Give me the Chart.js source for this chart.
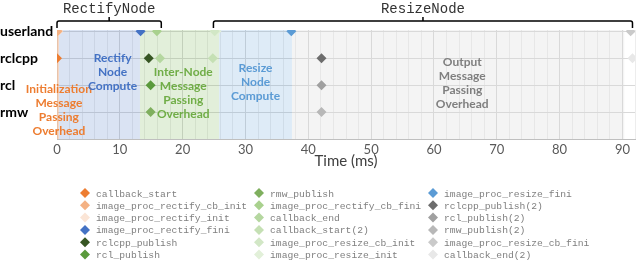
<!DOCTYPE html>
<html>
<head>
<meta charset="utf-8">
<script src="https://cdn.jsdelivr.net/npm/chart.js@4"></script>
<style>
  body { margin: 0; background: #fff; }
  #wrap { width: 640px; height: 261px; position: relative; }
</style>
</head>
<body>
<div id="wrap"><canvas id="traceChart"></canvas></div>
<script>
// rows of the trace (top to bottom)
const rowNames = ['userland', 'rclcpp', 'rcl', 'rmw'];
const rowLevels = [4, 3, 2, 1];

// trace events
const eventNames = [
  'callback_start', 'image_proc_rectify_cb_init', 'image_proc_rectify_init',
  'image_proc_rectify_fini', 'rclcpp_publish', 'rcl_publish',
  'rmw_publish', 'image_proc_rectify_cb_fini', 'callback_end',
  'callback_start(2)', 'image_proc_resize_cb_init', 'image_proc_resize_init',
  'image_proc_resize_fini', 'rclcpp_publish(2)', 'rcl_publish(2)',
  'rmw_publish(2)', 'image_proc_resize_cb_fini', 'callback_end(2)'
];
const eventRows = [
  'rclcpp', 'userland', 'userland',
  'userland', 'rclcpp', 'rcl',
  'rmw', 'userland', 'rclcpp',
  'rclcpp', 'userland', 'userland',
  'userland', 'rclcpp', 'rcl',
  'rmw', 'userland', 'rclcpp'
];
const eventTimes = [
  0, 0.1, 0.2,
  13.3, 14.6, 14.9,
  14.9, 15.9, 16.4,
  24.8, 25.1, 25.4,
  37.3, 42.1, 42.1,
  42.1, 91.3, 91.6
];

// phases (ms)
const phaseStarts = [0, 0.3, 13.2, 25.8, 37.4];
const phaseEnds = [0.3, 13.2, 25.8, 37.4, 90.3];
const phaseLabels = [
  ['Initialization', 'Message', 'Passing', 'Overhead'],
  ['Rectify', 'Node', 'Compute'],
  ['Inter-Node', 'Message', 'Passing', 'Overhead'],
  ['Resize', 'Node', 'Compute'],
  ['Output', 'Message', 'Passing', 'Overhead']
];

// node brackets (ms)
const nodeNames = ['RectifyNode', 'ResizeNode'];
const nodeStarts = [0, 24.9];
const nodeEnds = [16.6, 91.6];

const xTickLabels = ['0', '10', '20', '30', '40', '50', '60', '70', '80', '90'];

// styles
const eventColors = [
  '#ED7D31', '#F4B183', '#FBE5D6',
  '#4472C4', '#375623', '#5A9A3C',
  '#7FAF5E', '#A9D18E', '#B5D7A0',
  '#C5E0B4', '#D2E7C6', '#E2F0D9',
  '#5B9BD5', '#6D6D6D', '#A0A0A0',
  '#B8B8B8', '#CACACA', '#E8E8E8'
];
const phaseFill = [
  'rgba(244,177,131,0.55)', 'rgba(68,114,196,0.2)', 'rgba(112,173,71,0.2)',
  'rgba(91,155,213,0.2)', 'rgba(217,217,217,0.3)'
];
const phaseText = ['#ED7D31', '#4472C4', '#70AD47', '#5B9BD5', '#7F7F7F'];
const phaseTextCx = [0.3, 8.85, 20.1, 31.6, 64.5];
const phaseTextTop = [59, 28, 42, 38, 32];

const datasets = eventNames.map((name, i) => ({
  label: name,
  data: [{ x: eventTimes[i], y: rowLevels[rowNames.indexOf(eventRows[i])] }],
  backgroundColor: eventColors[i],
  borderColor: eventColors[i],
  pointStyle: 'rectRot',
  pointRadius: 5,
  pointHoverRadius: 5,
  borderWidth: 0
}));

const phasePlugin = {
  id: 'phases',
  beforeDatasetsDraw(chart) {
    const { ctx, chartArea, scales } = chart;
    ctx.save();
    phaseStarts.forEach((s, i) => {
      const x0 = scales.x.getPixelForValue(s);
      const x1 = scales.x.getPixelForValue(phaseEnds[i]);
      ctx.fillStyle = phaseFill[i];
      ctx.fillRect(x0, chartArea.top, x1 - x0, chartArea.bottom - chartArea.top);
    });
    ctx.font = 'bold 12px Lato';
    ctx.textAlign = 'center';
    ctx.textBaseline = 'middle';
    phaseLabels.forEach((lines, i) => {
      const cx = scales.x.getPixelForValue(phaseTextCx[i]);
      ctx.fillStyle = phaseText[i];
      lines.forEach((t, j) => {
        ctx.fillText(t, cx, chartArea.top + phaseTextTop[i] + j * 14);
      });
    });
    ctx.restore();
  }
};

const decorPlugin = {
  id: 'decor',
  afterDraw(chart) {
    const { ctx, scales } = chart;
    ctx.save();
    // brackets
    ctx.strokeStyle = '#000';
    ctx.lineWidth = 1.5;
    ctx.fillStyle = '#333';
    ctx.font = '14px "Liberation Mono"';
    ctx.textAlign = 'center';
    ctx.textBaseline = 'middle';
    nodeNames.forEach((n, i) => {
      const x0 = scales.x.getPixelForValue(nodeStarts[i]);
      const x1 = scales.x.getPixelForValue(nodeEnds[i]);
      const cx = (x0 + x1) / 2;
      ctx.beginPath();
      ctx.moveTo(x0, 28);
      ctx.lineTo(x0, 23);
      ctx.quadraticCurveTo(x0, 21, x0 + 2, 21);
      ctx.lineTo(x1 - 2, 21);
      ctx.quadraticCurveTo(x1, 21, x1, 23);
      ctx.lineTo(x1, 28);
      ctx.moveTo(cx, 21);
      ctx.lineTo(cx, 17);
      ctx.stroke();
      ctx.fillText(n, cx, 9);
    });
    // legend, column by column
    ctx.font = '9.7px "Liberation Mono"';
    ctx.textAlign = 'left';
    const colX = [85, 259, 433];
    chart.data.datasets.forEach((ds, i) => {
      const col = Math.floor(i / 6);
      const row = i % 6;
      const x = colX[col];
      const y = 193 + row * 12.3;
      ctx.fillStyle = ds.backgroundColor;
      ctx.beginPath();
      ctx.moveTo(x, y - 5);
      ctx.lineTo(x + 5, y);
      ctx.lineTo(x, y + 5);
      ctx.lineTo(x - 5, y);
      ctx.closePath();
      ctx.fill();
      ctx.fillStyle = '#7F7F7F';
      ctx.fillText(ds.label, x + 11, y + 1);
    });
    ctx.restore();
  }
};

new Chart(document.getElementById('traceChart'), {
  type: 'scatter',
  data: { datasets },
  plugins: [phasePlugin, decorPlugin],
  options: {
    responsive: true,
    maintainAspectRatio: false,
    animation: false,
    layout: { padding: { top: 30, right: 1, bottom: 88, left: 0 } },
    plugins: { legend: { display: false }, tooltip: { enabled: false } },
    scales: {
      x: {
        type: 'linear',
        min: 0,
        max: 92,
        afterFit(scale) { scale.height = 34; },
        ticks: {
          stepSize: 2,
          autoSkip: false,
          maxRotation: 0,
          padding: 3,
          color: '#595959',
          font: { family: 'Lato', size: 13 },
          callback: v => (v % 10 === 0 ? xTickLabels[v / 10] : '')
        },
        grid: {
          drawTicks: false,
          color: c => (c.tick && c.tick.value % 10 === 0 ? '#D9D9D9' : '#EDEDED')
        },
        border: { color: '#BFBFBF' },
        title: {
          display: true,
          text: 'Time (ms)',
          color: '#404040',
          font: { family: 'Lato', size: 15 },
          padding: { top: 0, bottom: 3 }
        }
      },
      y: {
        type: 'linear',
        min: 0,
        max: 4.05,
        afterFit(scale) { scale.width = 57; },
        afterBuildTicks(scale) {
          scale.ticks = [0, 1, 2, 3, 4].map(v => ({ value: v }));
        },
        ticks: {
          padding: 6,
          crossAlign: 'far',
          color: '#000',
          font: { family: 'Lato', size: 14, weight: 'bold' },
          callback: v => (v === 0 ? '' : rowNames[rowLevels.indexOf(v)])
        },
        grid: { drawTicks: false, color: '#D9D9D9' },
        border: { display: false }
      }
    }
  }
});
</script>
</body>
</html>
